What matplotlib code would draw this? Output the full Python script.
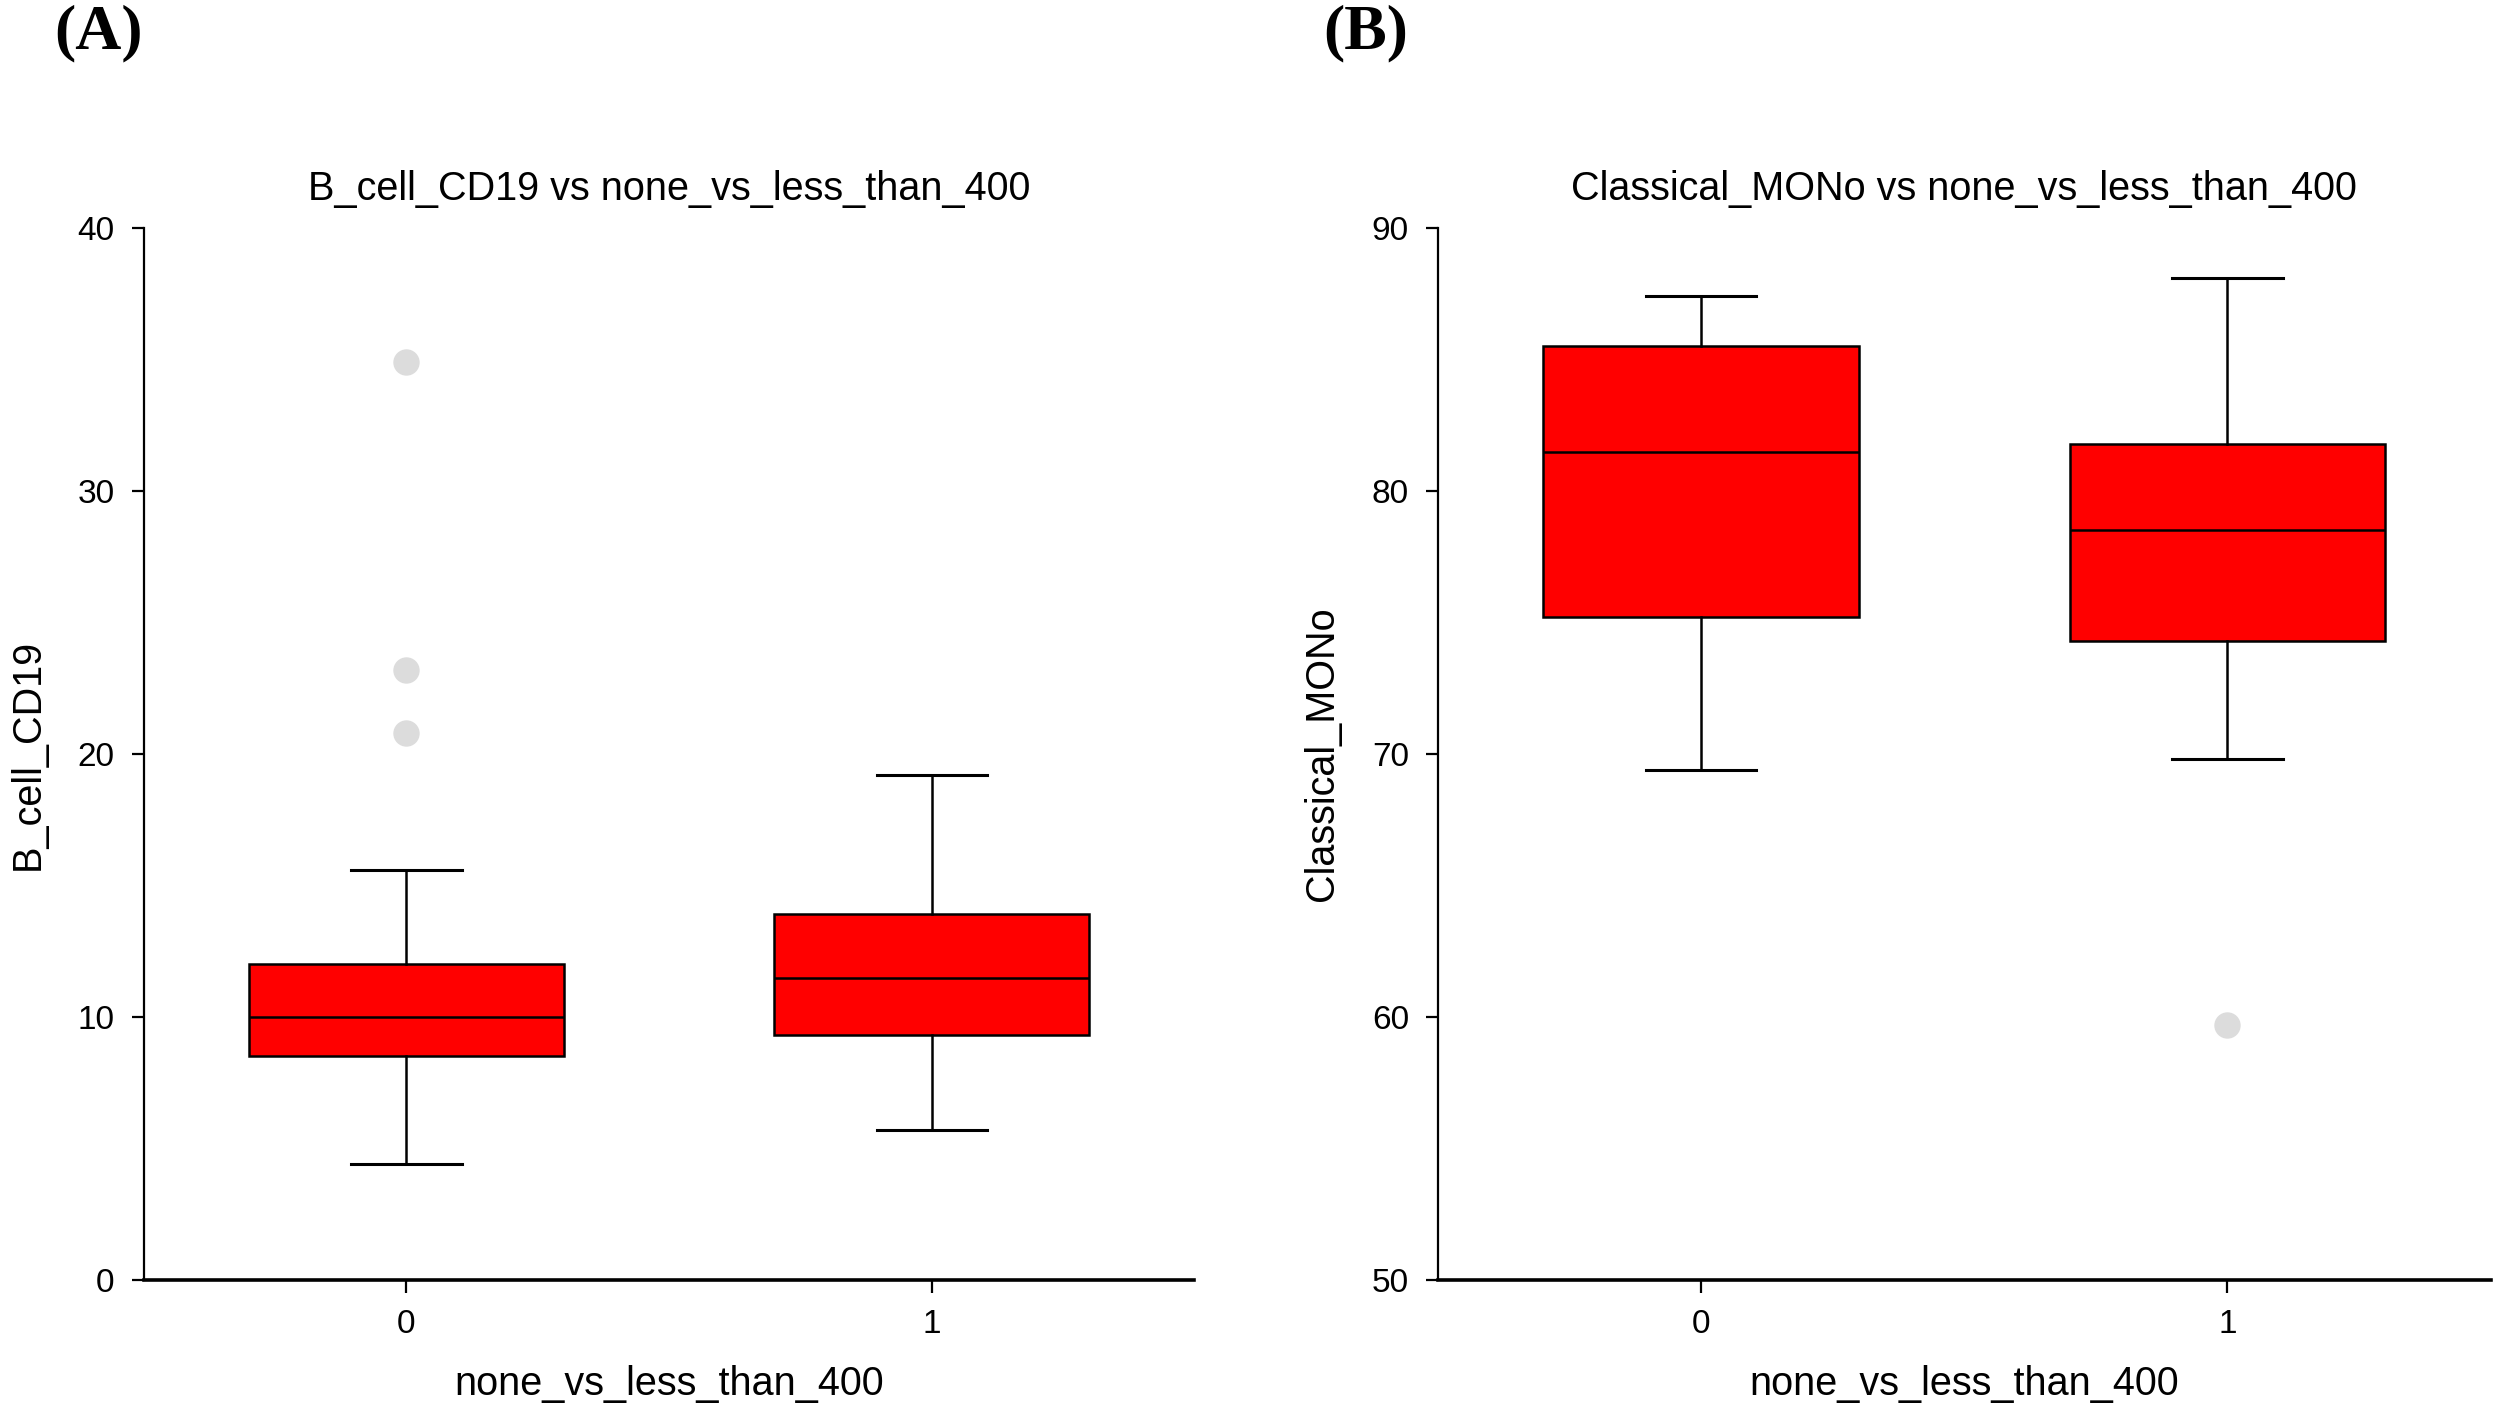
import matplotlib
matplotlib.use("Agg")
import matplotlib.pyplot as plt

plt.rcParams["font.family"] = ["Liberation Sans", "DejaVu Sans"]

groups = ["0", "1"]

# panel A: B_cell_CD19
cd19_whislo = [4.4, 5.7]
cd19_q1 = [8.5, 9.3]
cd19_med = [10.0, 11.5]
cd19_q3 = [12.0, 13.9]
cd19_whishi = [15.6, 19.2]
cd19_fliers = [[34.9, 23.2, 20.8], []]

# panel B: Classical_MONo
mono_whislo = [69.4, 69.8]
mono_q1 = [75.2, 74.3]
mono_med = [81.5, 78.5]
mono_q3 = [85.5, 81.8]
mono_whishi = [87.4, 88.1]
mono_fliers = [[], [59.7]]


def make_stats(lo, q1, med, q3, hi, fl):
	stats = []
	for i in range(len(groups)):
		stats.append({"whislo": lo[i], "q1": q1[i], "med": med[i], "q3": q3[i],
					  "whishi": hi[i], "fliers": fl[i], "label": groups[i]})
	return stats


def draw_panel(ax, stats, ylim, yticks, ylabel, title):
	ax.bxp(stats, positions=range(len(groups)), widths=0.6, capwidths=0.21,
		   patch_artist=True, showfliers=True,
		   boxprops={"facecolor": "#ff0000", "edgecolor": "black", "linewidth": 1.8},
		   medianprops={"color": "black", "linewidth": 1.8},
		   whiskerprops={"color": "black", "linewidth": 1.8},
		   capprops={"color": "black", "linewidth": 2.2},
		   flierprops={"marker": "o", "markerfacecolor": "#dcdcdc",
					   "markeredgecolor": "none", "markersize": 19})
	ax.set_xlim(-0.5, 1.5)
	ax.set_ylim(*ylim)
	ax.set_yticks(yticks)
	ax.set_xticks(range(len(groups)))
	ax.set_xticklabels(groups)
	ax.spines["top"].set_visible(False)
	ax.spines["right"].set_visible(False)
	ax.spines["left"].set_linewidth(1.6)
	ax.spines["bottom"].set_linewidth(2.6)
	ax.tick_params(axis="both", labelsize=24, width=1.6, length=9, pad=12)
	ax.set_ylabel(ylabel, fontsize=28.5, labelpad=22)
	ax.set_xlabel("none_vs_less_than_400", fontsize=28.5, labelpad=18)
	ax.set_title(title, fontsize=28.5, pad=20)


fig = plt.figure(figsize=(24.98, 14.12), dpi=100)
ax1 = fig.add_axes([0.0576, 0.0935, 0.4205, 0.745])
ax2 = fig.add_axes([0.5757, 0.0935, 0.4213, 0.745])

draw_panel(ax1, make_stats(cd19_whislo, cd19_q1, cd19_med, cd19_q3, cd19_whishi, cd19_fliers),
		   (0, 40), [0, 10, 20, 30, 40], "B_cell_CD19", "B_cell_CD19 vs none_vs_less_than_400")
draw_panel(ax2, make_stats(mono_whislo, mono_q1, mono_med, mono_q3, mono_whishi, mono_fliers),
		   (50, 90), [50, 60, 70, 80, 90], "Classical_MONo", "Classical_MONo vs none_vs_less_than_400")

fig.text(0.0396, 0.976, "(A)", fontsize=46, fontweight="bold", family="Liberation Serif",
		 ha="center", va="center")
fig.text(0.5468, 0.976, "(B)", fontsize=46, fontweight="bold", family="Liberation Serif",
		 ha="center", va="center")

fig.savefig("out.png", dpi=100)
